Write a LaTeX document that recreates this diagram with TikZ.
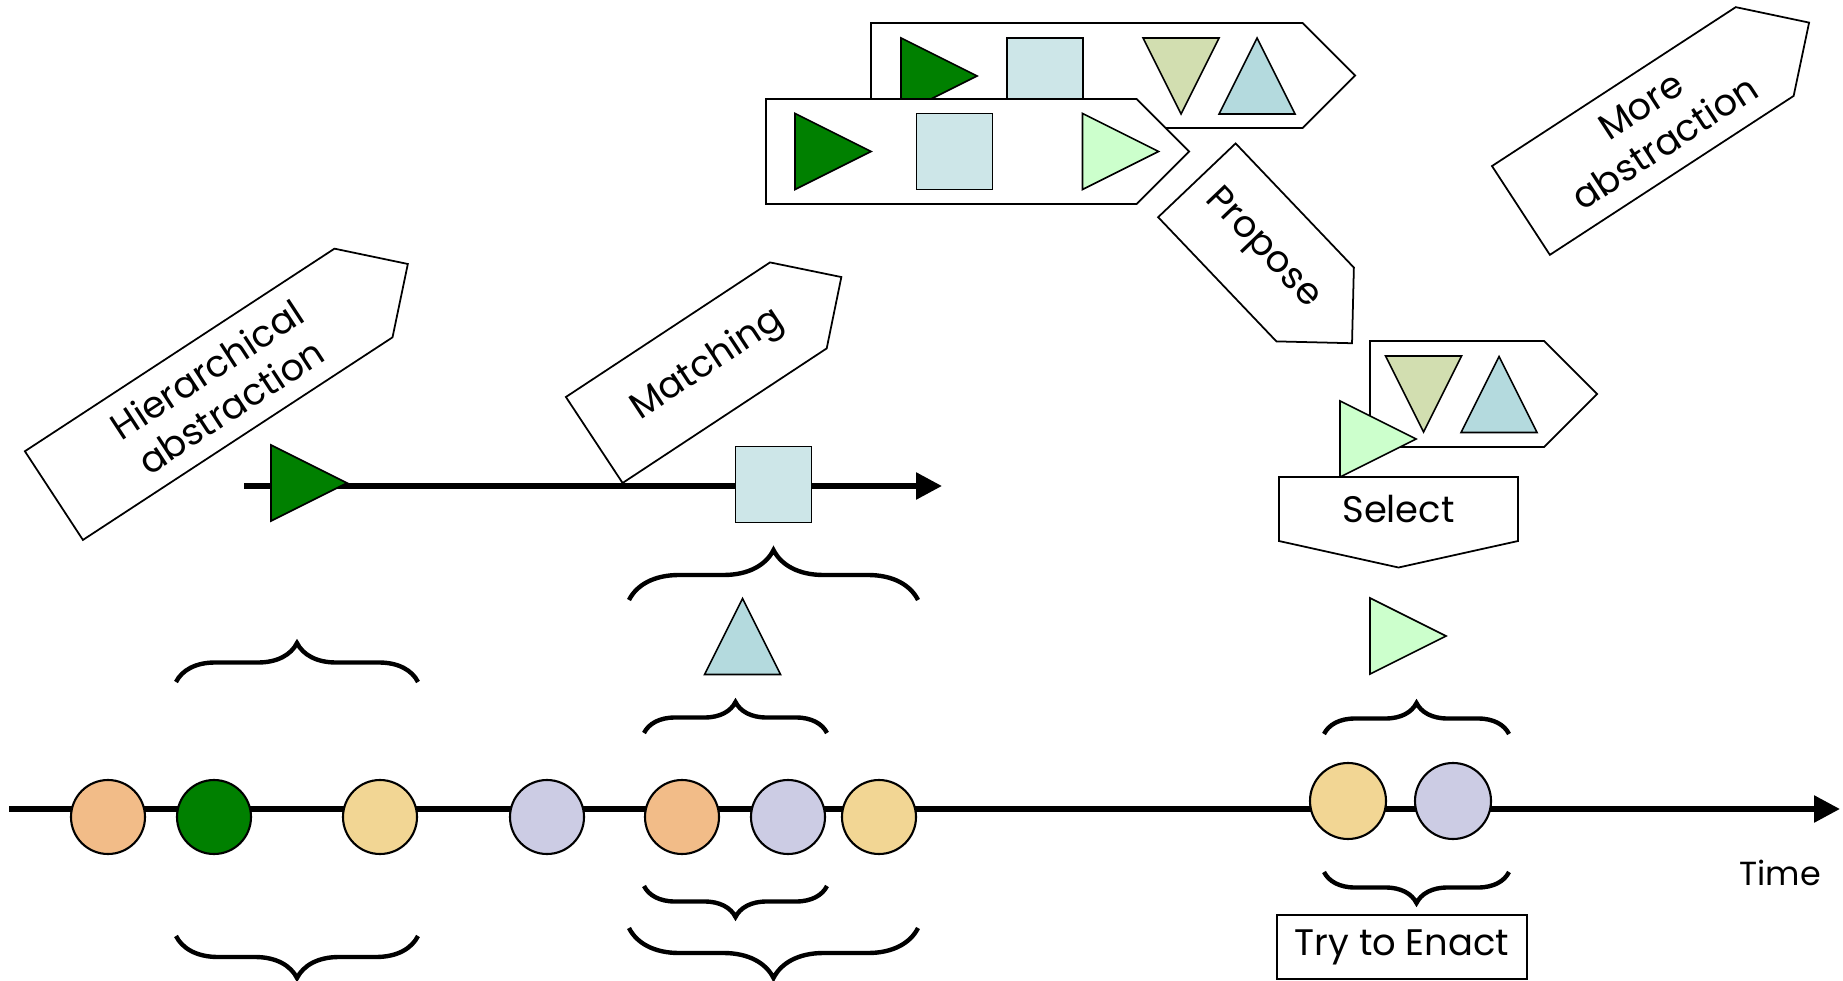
\documentclass[tikz,border=0pt]{standalone}
\usepackage{fontspec}
\setmainfont{Poppins}
\usepackage{xcolor,tikz}
\usetikzlibrary{positioning,calc,arrows.meta,decorations.pathreplacing,shapes.symbols}
\definecolor{evOrange}{HTML}{F2BC88}
\definecolor{evYellow}{HTML}{F2D694}
\definecolor{evLavender}{HTML}{CCCCE4}
\definecolor{evGreen}{HTML}{008000}
\definecolor{evMint}{HTML}{CCFFCC}
\definecolor{evIce}{HTML}{CDE6E8}
\definecolor{evTeal}{HTML}{B4DADE}
\definecolor{evOlive}{HTML}{D2DEB0}
\tikzset{
  ev dot/.style={
    circle, draw=black, line width=0.6pt,
    minimum size=7.4mm, inner sep=0pt,
  },
  ev box/.style={
    signal, signal pointer angle=90,
    draw=black, fill=white, line width=0.5pt,
    inner sep=0pt, align=center,
    font=\fontsize{10.5}{12.5}\selectfont,
  },
  shape line/.style={draw=black, line width=0.45pt},
  time line/.style={
    line width=1.6pt,
    -{Triangle[length=2.6mm, width=2.6mm]},
  },
  brace up/.style={decorate, decoration={brace, amplitude=#1}, line width=1.25pt},
  brace down/.style={decorate, decoration={brace, mirror, amplitude=#1}, line width=1.25pt},
  pics/rtri/.style={code={\path[shape line, pic actions] (-38,-38) -- (38,0) -- (-38,38) -- cycle;}},
  pics/utri/.style={code={\path[shape line, pic actions] (-38,38) -- (38,38) -- (0,-38) -- cycle;}},
  pics/dtri/.style={code={\path[shape line, pic actions] (-38,-38) -- (38,-38) -- (0,38) -- cycle;}},
  pics/sqr/.style={code={\path[shape line, pic actions] (-38,-38) rectangle (38,38);}},
}

\begin{document}
\begin{tikzpicture}[x=0.1mm, y=-0.1mm]

\useasboundingbox (0,0) rectangle (1843,981);

\def\yT{809}
\def\yC{817}

% --- TIME LINE ---
\coordinate (t0) at (9,\yT);
\coordinate (t1) at (1840,\yT);
\draw[time line] (t0) -- (t1);
\node[font=\fontsize{9.5}{11}\selectfont] (time) at (1780,873) {Time};

% --- EVENTS ---
\node[ev dot, fill=evOrange]   (c1) at (108,\yC) {};
\node[ev dot, fill=evGreen]    (c2) at (214,\yC) {};
\node[ev dot, fill=evYellow]   (c3) at (380,\yC) {};
\node[ev dot, fill=evLavender] (c4) at (547,\yC) {};
\node[ev dot, fill=evOrange]   (c5) at (682,\yC) {};
\node[ev dot, fill=evLavender] (c6) at (788,\yC) {};
\node[ev dot, fill=evYellow]   (c7) at (879,\yC) {};
\node[ev dot, fill=evYellow, minimum size=7.6mm]   (c8) at (1348,801) {};
\node[ev dot, fill=evLavender, minimum size=7.6mm] (c9) at (1453,801) {};

% --- BRACES ---
\draw[brace up=3.9mm]   (176,682) -- (418,682);
\draw[brace down=4.2mm] (176,936) -- (418,936);
\draw[brace up=3.1mm]   (644,733) -- (827,733);
\draw[brace down=3.1mm] (644,886) -- (827,886);
\draw[brace up=5mm]     (629,600) -- (918,600);
\draw[brace down=5mm]   (629,928) -- (918,928);
\draw[brace up=3.1mm]   (1324,734) -- (1509,734);
\draw[brace down=3.1mm] (1324,872) -- (1509,872);

% --- ABSTRACT LINE ---
\coordinate (a0) at (244,486);
\coordinate (a1) at (942,486);
\draw[time line] (a0) -- (a1);
\pic[fill=evGreen] at (309,483) {rtri};
\pic[fill=evIce] at (773.5,484.5) {sqr};
\pic[fill=evTeal] at (742.5,636.5) {utri};

% --- LABELLED ARROWS ---
% (hspace pushes the text a little towards the tip)
\node[ev box, rotate=33.2, minimum width=42.3mm, minimum height=10.6mm]
  (hier) at (208.7,394.3) {\hspace*{2.4mm}Hierarchical\\\hspace*{2.4mm}abstraction};
\node[ev box, rotate=33.4, minimum width=29.6mm, minimum height=10.3mm]
  (match) at (696.3,372.7) {\hspace*{2.8mm}Matching};
\node[ev box, rotate=33.1, minimum width=34.4mm, minimum height=10.6mm]
  (more) at (1642.8,131) {\hspace*{2.4mm}More\\\hspace*{2.4mm}abstraction};
\node[ev box, rotate=-46.4, minimum width=22.5mm, minimum height=10.7mm]
  (prop) at (1256,242.4) {\hspace*{1.8mm}Propose};

% --- PROPOSALS ---
\node[ev box, minimum width=48.4mm, minimum height=10.5mm] (pback) at (1086.75,75.5) {};
\pic[fill=evGreen] at (939,76) {rtri};
\pic[fill=evIce] at (1045,76) {sqr};
\pic[fill=evOlive] at (1181,76) {dtri};
\pic[fill=evTeal] at (1257,76) {utri};
\node[ev box, minimum width=42.3mm, minimum height=10.5mm] (pfront) at (951.25,151.5) {};
\pic[fill=evGreen] at (833,151.5) {rtri};
\pic[fill=evIce] at (954.5,151.5) {sqr};
\pic[fill=evMint] at (1120.5,151.5) {rtri};

% --- SELECTION ---
\node[ev box, minimum width=22.7mm, minimum height=10.6mm] (prest) at (1457,394) {};
\pic[fill=evOlive] at (1423.5,394) {dtri};
\pic[fill=evTeal] at (1499,394.5) {utri};
\pic[fill=evMint] at (1378,439) {rtri};
\node[ev box, signal to=south, signal pointer angle=155,
  minimum width=23.9mm, minimum height=7.65mm] (sel) at (1398.5,509) {Select};
\pic[fill=evMint] at (1408,636) {rtri};

% --- ENACT ---
\node[draw=black, line width=0.5pt, minimum width=25mm, minimum height=6.4mm,
  inner sep=0pt, font=\fontsize{10.5}{12}\selectfont] (enact) at (1402,947) {Try to Enact};

\end{tikzpicture}
\end{document}
